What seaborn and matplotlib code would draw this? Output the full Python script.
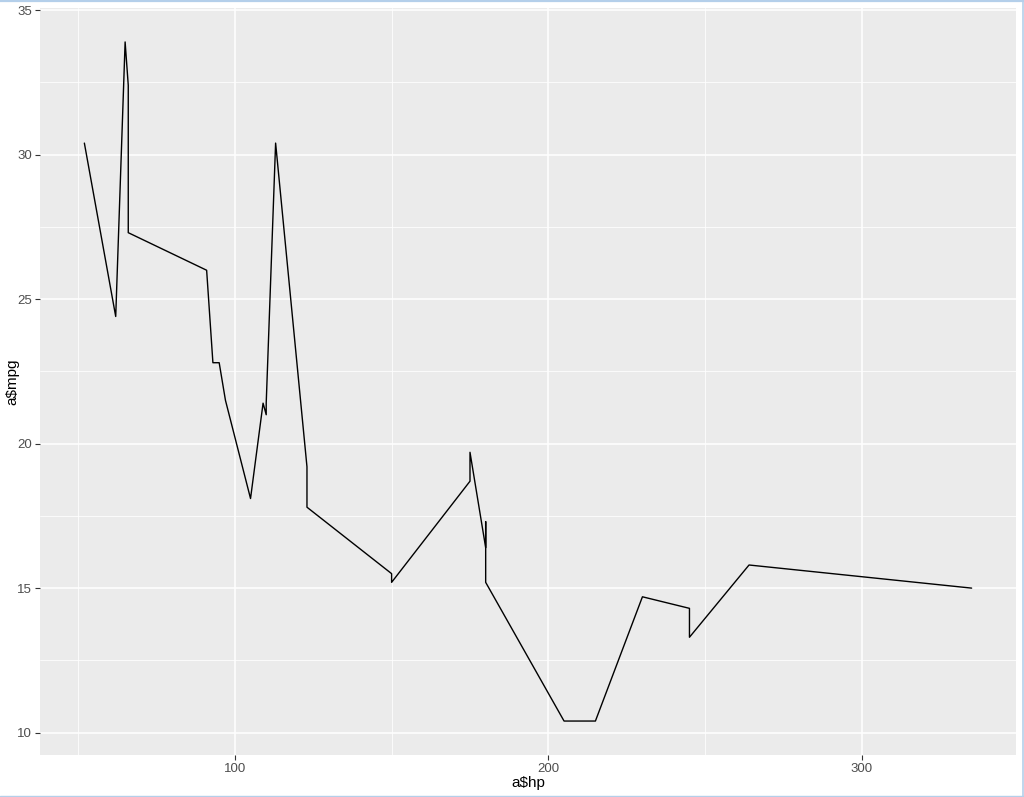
import numpy as np
import pandas as pd
import matplotlib
matplotlib.use("Agg")
import matplotlib.pyplot as plt
import seaborn as sns
from matplotlib.lines import Line2D

# mtcars hp / mpg (data order)
hp = [110, 110, 93, 110, 175, 105, 245, 62, 95, 123, 123, 180, 180, 180, 205, 215,
      230, 66, 52, 65, 97, 150, 150, 245, 175, 66, 91, 113, 264, 175, 335, 109]
mpg = [21.0, 21.0, 22.8, 21.4, 18.7, 18.1, 14.3, 24.4, 22.8, 19.2, 17.8, 16.4, 17.3,
       15.2, 10.4, 10.4, 14.7, 32.4, 30.4, 33.9, 21.5, 15.5, 15.2, 13.3, 19.2, 27.3,
       26.0, 30.4, 15.8, 19.7, 15.0, 21.4]
x_ticks = [100, 200, 300]
y_ticks = [10, 15, 20, 25, 30, 35]

df = pd.DataFrame({"hp": hp, "mpg": mpg}).sort_values("hp", kind="stable")

sns.set_theme(style="darkgrid")
plt.rcParams["font.family"] = ["Liberation Sans", "DejaVu Sans"]

W, H = 1024, 797
fig = plt.figure(figsize=(W / 100, H / 100), dpi=100, facecolor="white")
ax = fig.add_axes([40 / W, (H - 755) / H, (1016 - 40) / W, (755 - 8) / H])
ax.set_facecolor("#EBEBEB")

sns.lineplot(data=df, x="hp", y="mpg", estimator=None, sort=False,
             color="black", linewidth=1.0, ax=ax)

xr = max(hp) - min(hp)
yr = max(mpg) - min(mpg)
ax.set_xlim(min(hp) - 0.05 * xr, max(hp) + 0.05 * xr)
ax.set_ylim(min(mpg) - 0.05 * yr, max(mpg) + 0.05 * yr)
ax.set_xticks(x_ticks)
ax.set_yticks(y_ticks)
ax.set_xticks([50, 150, 250], minor=True)
ax.set_yticks([12.5, 17.5, 22.5, 27.5, 32.5], minor=True)
ax.grid(which="major", color="white", linewidth=1.1)
ax.grid(which="minor", color="white", linewidth=0.55)
ax.set_axisbelow(True)
for s in ax.spines.values():
    s.set_visible(False)
ax.tick_params(which="major", bottom=True, left=True, length=3.6, width=0.8,
               color="#333333", labelcolor="#4D4D4D", labelsize=9.5, pad=2)
ax.tick_params(which="minor", bottom=False, left=False, length=0)
ax.set_xlabel("a$hp", fontsize=11, color="black", labelpad=1)
ax.set_ylabel("a$mpg", fontsize=11, color="black", va="center")
ax.yaxis.set_label_coords(-28 / 976, 0.5)

# screenshot frame (top, right, bottom)
c = "#B4CFEA"
fig.add_artist(Line2D([0, 1], [1 - 1 / H, 1 - 1 / H], transform=fig.transFigure, color=c, linewidth=1.6))
fig.add_artist(Line2D([1 - 1.5 / W, 1 - 1.5 / W], [0, 1], transform=fig.transFigure, color=c, linewidth=1.2))
fig.add_artist(Line2D([0, 1], [1 / H, 1 / H], transform=fig.transFigure, color=c, linewidth=1.0))

fig.savefig("out.png", dpi=100, facecolor="white")
